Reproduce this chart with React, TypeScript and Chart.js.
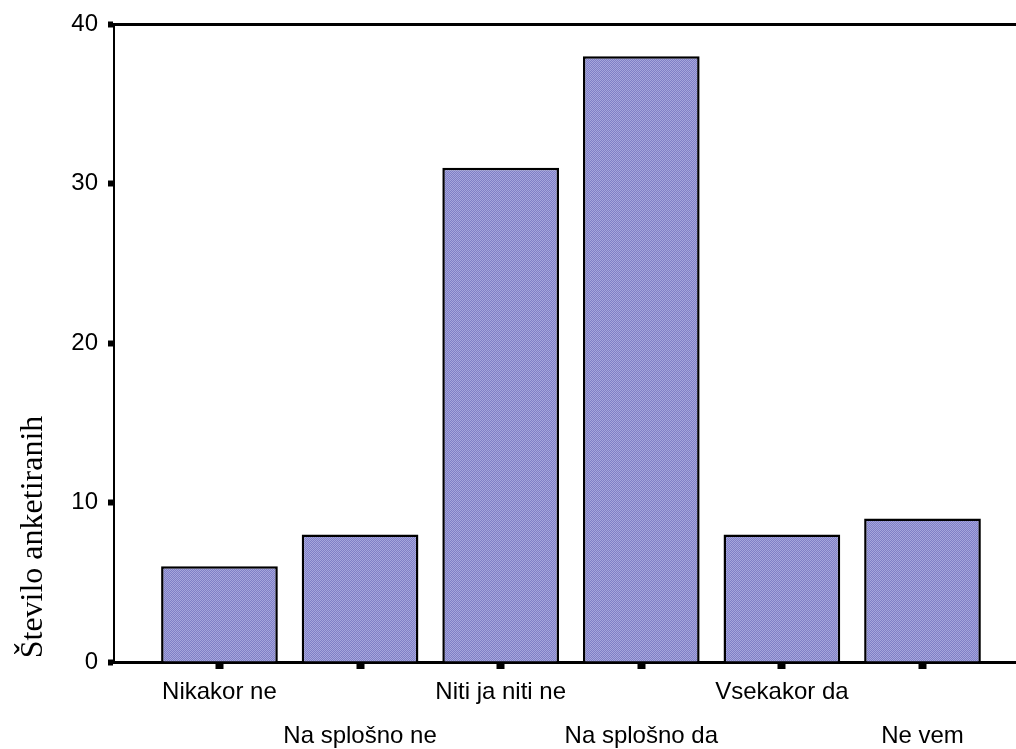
import React, { useEffect, useRef } from "react";
import { Chart, registerables } from "chart.js";

Chart.register(...registerables);

const categories = ["Nikakor ne", "Na splošno ne", "Niti ja niti ne", "Na splošno da", "Vsekakor da", "Ne vem"];
const counts = [6, 8, 31, 38, 8, 9];
const yTicks = [0, 10, 20, 30, 40];
const yTitle = "Število anketiranih";

const SANS = 'Arial, "Liberation Sans", sans-serif';
const SERIF = '"Times New Roman", "Liberation Serif", serif';

function makePattern(): CanvasPattern | string {
  const c = document.createElement("canvas");
  c.width = 2;
  c.height = 2;
  const g = c.getContext("2d");
  if (!g) return "#9292d2";
  g.fillStyle = "#7f7fc6";
  g.fillRect(0, 0, 2, 2);
  g.fillStyle = "#a6a6dc";
  g.fillRect(0, 0, 1, 1);
  g.fillRect(1, 1, 1, 1);
  const p = g.createPattern(c, "repeat");
  return p || "#9292d2";
}

export default function App() {
  const ref = useRef<HTMLCanvasElement | null>(null);

  useEffect(() => {
    const canvas = ref.current;
    if (!canvas) return;

    const framePlugin = {
      id: "frame",
      afterDraw(chart: any) {
        const { ctx, chartArea } = chart;
        ctx.save();
        ctx.strokeStyle = "#000";
        ctx.lineWidth = 3;
        ctx.beginPath();
        ctx.moveTo(chartArea.left, chartArea.top);
        ctx.lineTo(chart.width, chartArea.top);
        ctx.stroke();
        ctx.restore();

        ctx.save();
        ctx.translate(42, 537);
        ctx.rotate(-Math.PI / 2);
        ctx.font = `32px ${SERIF}`;
        ctx.fillStyle = "#000";
        ctx.textAlign = "center";
        ctx.textBaseline = "alphabetic";
        ctx.fillText(yTitle, 0, 0);
        ctx.restore();
      },
    };

    const chart = new Chart(canvas, {
      type: "bar",
      data: {
        datasets: [
          {
            data: categories.map((_, i) => ({ x: i, y: counts[i] })),
            backgroundColor: makePattern() as any,
            borderColor: "#000",
            borderWidth: 2.5,
            borderSkipped: "bottom",
            barPercentage: 0.83,
            categoryPercentage: 1,
          },
        ],
      },
      options: {
        responsive: false,
        animation: false,
        devicePixelRatio: 1,
        layout: { padding: { left: 0, top: 24, right: 0, bottom: 0 } },
        plugins: { legend: { display: false }, tooltip: { enabled: false } },
        scales: {
          x: {
            type: "linear",
            offset: false,
            min: -0.75,
            max: 5.665,
            afterBuildTicks: (scale: any) => {
              scale.ticks = categories.map((_, i) => ({ value: i }));
            },
            afterFit: (scale: any) => {
              scale.height = 87;
            },
            ticks: {
              autoSkip: false,
              maxRotation: 0,
              minRotation: 0,
              padding: 1,
              color: "#000",
              font: { family: SANS, size: 24, lineHeight: 44 / 24 },
              callback: (v: any) => {
                const i = Math.round(Number(v));
                const label = categories[i] ?? "";
                return i % 2 === 0 ? [label] : ["", label];
              },
            },
            grid: {
              display: true,
              offset: false,
              drawOnChartArea: false,
              drawTicks: true,
              tickLength: 7,
              tickWidth: 8,
              tickColor: "#000",
            },
            border: { display: true, color: "#000", width: 3 },
          },
          y: {
            min: 0,
            max: 40,
            afterBuildTicks: (scale: any) => {
              scale.ticks = yTicks.map((v) => ({ value: v }));
            },
            afterFit: (scale: any) => {
              scale.width = 114;
            },
            ticks: {
              padding: 10,
              color: "#000",
              font: { family: SANS, size: 24 },
            },
            grid: {
              display: true,
              drawOnChartArea: false,
              drawTicks: true,
              tickLength: 6,
              tickWidth: 6,
              tickColor: "#000",
            },
            border: { display: true, color: "#000", width: 2 },
          },
        },
      },
      plugins: [framePlugin],
    } as any);

    return () => chart.destroy();
  }, []);

  return (
    <div style={{ position: "absolute", left: 0, top: 0, width: 1016, height: 749, background: "#fff" }}>
      <canvas ref={ref} width={1016} height={749} style={{ display: "block", width: 1016, height: 749 }} />
    </div>
  );
}
